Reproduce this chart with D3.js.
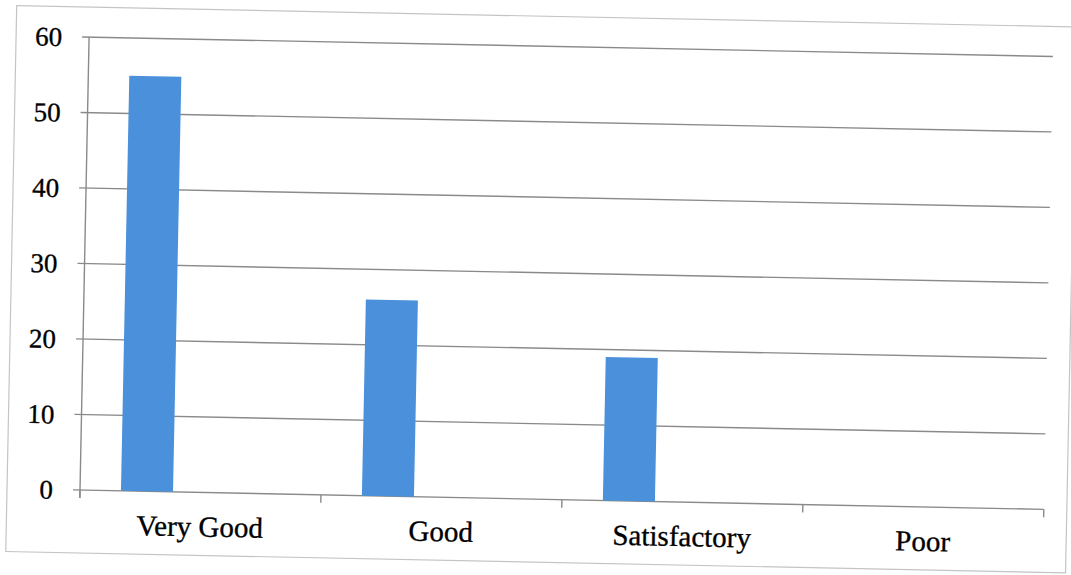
<!DOCTYPE html>
<html>
<head>
<meta charset="utf-8">
<script src="https://cdn.jsdelivr.net/npm/d3@7"></script>
<style>
  html, body { margin: 0; padding: 0; background: #ffffff; }
  svg { display: block; }
  text { font-family: "Liberation Serif", "Times New Roman", Times, serif; fill: #000; stroke: #000; stroke-width: 0.35px; }
</style>
</head>
<body>
<script>
// ---- data ----
const categories = ["Very Good", "Good", "Satisfactory", "Poor"];
const values = [55, 26, 19, 0];
const yTickValues = [0, 10, 20, 30, 40, 50, 60];

// ---- layout ----
const W = 1071, H = 575;
const plot = { left: 80, right: 1044, top: 37, bottom: 490 };
const tilt = 1.15; // scan is slightly rotated clockwise

const svg = d3.select("body").append("svg")
  .attr("width", W).attr("height", H);

const g = svg.append("g")
  .attr("transform", `rotate(${tilt}, ${plot.left}, ${plot.bottom})`);

// outer frame
g.append("rect")
  .attr("x", 7).attr("y", 7).attr("width", 1060).attr("height", 546)
  .attr("fill", "none").attr("stroke", "#c4c4c4").attr("stroke-width", 1.2);

const x = d3.scaleBand().domain(categories).range([plot.left, plot.right]).padding(0);
const y = d3.scaleLinear().domain([0, 60]).range([plot.bottom, plot.top]);

const grid = "#8a8a8a";

// gridlines (incl. outer tick marks on the left)
g.append("g").selectAll("line").data(yTickValues).join("line")
  .attr("x1", plot.left - 7).attr("x2", plot.right)
  .attr("y1", d => y(d)).attr("y2", d => y(d))
  .attr("stroke", grid).attr("stroke-width", 1.4);

// vertical value axis line
g.append("line")
  .attr("x1", plot.left).attr("x2", plot.left)
  .attr("y1", y(60)).attr("y2", plot.bottom + 8)
  .attr("stroke", grid).attr("stroke-width", 1.4);

// category tick marks at band boundaries
const boundaries = categories.map(c => x(c)).concat([plot.right]);
g.append("g").selectAll("line").data(boundaries).join("line")
  .attr("x1", d => d).attr("x2", d => d)
  .attr("y1", plot.bottom).attr("y2", plot.bottom + 8)
  .attr("stroke", grid).attr("stroke-width", 1.4);

// bars
const bw = x.bandwidth();
g.append("g").selectAll("rect").data(values).join("rect")
  .attr("x", (d, i) => x(categories[i]) + bw * 0.17)
  .attr("width", bw * 0.216)
  .attr("y", d => y(d))
  .attr("height", d => y(0) - y(d))
  .attr("fill", "#4a90da");

// y labels
g.append("g").selectAll("text").data(yTickValues).join("text")
  .attr("x", plot.left - 27)
  .attr("y", d => y(d))
  .attr("dy", "0.35em")
  .attr("text-anchor", "end")
  .style("font-size", "27px")
  .text(d => d);

// x labels
g.append("g").selectAll("text").data(categories).join("text")
  .attr("x", d => x(d) + bw / 2)
  .attr("y", plot.bottom + 44)
  .attr("text-anchor", "middle")
  .style("font-size", "29px")
  .text(d => d);
</script>
</body>
</html>
